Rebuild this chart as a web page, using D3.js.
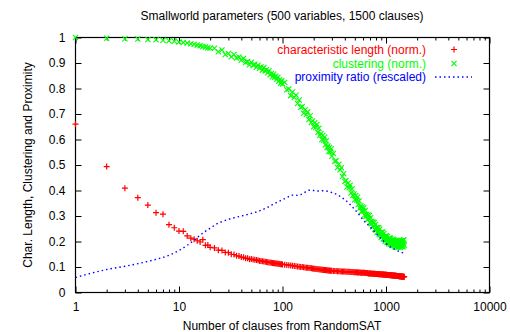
<!DOCTYPE html>
<html>
<head>
<meta charset="utf-8">
<script src="https://cdn.jsdelivr.net/npm/d3@7"></script>
<style>
  html, body { margin: 0; padding: 0; background: #fff; }
  svg { display: block; }
  text { font-family: "Liberation Sans", Arial, Helvetica, sans-serif; font-size: 12px; fill: #000; }
</style>
</head>
<body>
<svg id="chart" width="510" height="332"></svg>
<script>
// Number of clauses taken from RandomSAT (shared by the two scatter series)
const clauses = [
  1,2,3,4,5,6,7,8,9,10,11,12,13,14,15,16,17,18,19,20,
  22,24,26,28,30,32,34,36,38,40,42,44,46,48,50,52,54,56,58,60,
  62,64,66,68,70,72,74,76,78,80,82,84,86,88,90,92,94,96,98,100,
  105,110,115,120,125,130,135,140,145,150,155,160,165,170,175,180,185,190,195,200,
  205,210,215,220,225,230,235,240,245,250,255,260,265,270,275,280,285,290,295,300,
  310,320,330,340,350,360,370,380,390,400,410,420,430,440,450,460,470,480,490,500,
  510,520,530,540,550,560,570,580,590,600,610,620,630,640,650,660,670,680,690,700,
  710,720,730,740,750,760,770,780,790,800,810,820,830,840,850,860,870,880,890,900,
  910,920,930,940,950,960,970,980,990,1000,1010,1020,1030,1040,1050,1060,1070,1080,1090,1100,
  1110,1120,1130,1140,1150,1160,1170,1180,1190,1200,1210,1220,1230,1240,1250,1260,1270,1280,1290,1300,
  1310,1320,1330,1340,1350,1360,1370,1380,1390,1400,1410,1420,1430,1440,1450,1460,1470,1480,1490,1500
];

// Characteristic path length (normalised)
const charLength = [
  0.660,0.494,0.409,0.372,0.343,0.313,0.307,0.266,0.254,0.241,0.240,0.222,0.213,0.209,0.203,0.198,0.207,0.185,0.186,0.177,
  0.175,0.166,0.165,0.157,0.156,0.150,0.149,0.144,0.143,0.139,0.138,0.134,0.134,0.130,0.131,0.129,0.128,0.127,0.126,0.124,
  0.124,0.123,0.122,0.121,0.120,0.119,0.118,0.118,0.117,0.116,0.115,0.115,0.114,0.114,0.113,0.113,0.112,0.111,0.111,0.110,
  0.109,0.108,0.107,0.106,0.105,0.104,0.103,0.102,0.101,0.100,0.100,0.099,0.098,0.097,0.097,0.096,0.096,0.095,0.094,0.093,
  0.093,0.092,0.092,0.091,0.091,0.090,0.090,0.089,0.089,0.088,0.088,0.088,0.087,0.087,0.086,0.086,0.086,0.085,0.085,0.085,
  0.084,0.084,0.084,0.083,0.083,0.083,0.082,0.082,0.082,0.082,0.081,0.081,0.081,0.081,0.080,0.080,0.080,0.080,0.079,0.079,
  0.079,0.079,0.078,0.078,0.078,0.078,0.077,0.077,0.077,0.077,0.077,0.077,0.076,0.076,0.076,0.076,0.075,0.075,0.075,0.075,
  0.075,0.075,0.074,0.074,0.074,0.074,0.074,0.074,0.073,0.073,0.073,0.073,0.073,0.073,0.072,0.072,0.072,0.072,0.072,0.072,
  0.071,0.071,0.071,0.071,0.071,0.071,0.070,0.070,0.070,0.070,0.070,0.070,0.069,0.069,0.069,0.069,0.069,0.069,0.068,0.068,
  0.068,0.068,0.068,0.068,0.067,0.067,0.067,0.067,0.067,0.067,0.066,0.066,0.066,0.066,0.066,0.066,0.065,0.065,0.065,0.065,
  0.065,0.065,0.064,0.064,0.064,0.064,0.064,0.064,0.063,0.063,0.063,0.063,0.063,0.063,0.062,0.062,0.062,0.062,0.062,0.062
];

// Clustering coefficient (normalised)
const clustering = [
  1.000,0.997,0.995,0.994,0.992,0.991,0.989,0.987,0.985,0.982,0.980,0.978,0.975,0.973,0.970,0.968,0.965,0.963,0.960,0.958,
  0.958,0.944,0.951,0.933,0.937,0.924,0.933,0.920,0.924,0.911,0.918,0.902,0.906,0.893,0.903,0.891,0.895,0.883,0.891,0.879,
  0.884,0.872,0.882,0.869,0.874,0.862,0.870,0.854,0.858,0.846,0.856,0.844,0.848,0.836,0.844,0.828,0.833,0.821,0.830,0.818,
  0.824,0.795,0.798,0.772,0.786,0.765,0.774,0.741,0.755,0.726,0.729,0.703,0.717,0.698,0.708,0.678,0.693,0.667,0.673,0.650,
  0.666,0.648,0.659,0.628,0.644,0.617,0.623,0.600,0.616,0.598,0.609,0.579,0.595,0.569,0.575,0.553,0.569,0.552,0.563,0.534,
  0.545,0.515,0.517,0.490,0.503,0.481,0.489,0.455,0.466,0.435,0.439,0.414,0.429,0.411,0.421,0.390,0.406,0.380,0.386,0.364,
  0.380,0.363,0.374,0.345,0.359,0.331,0.339,0.318,0.335,0.319,0.332,0.304,0.322,0.298,0.306,0.286,0.304,0.289,0.302,0.275,
  0.293,0.270,0.278,0.258,0.276,0.261,0.275,0.248,0.267,0.245,0.254,0.235,0.254,0.240,0.254,0.228,0.248,0.226,0.235,0.216,
  0.236,0.222,0.237,0.211,0.231,0.209,0.219,0.201,0.221,0.208,0.223,0.198,0.219,0.198,0.209,0.191,0.212,0.199,0.215,0.190,
  0.211,0.190,0.201,0.184,0.205,0.192,0.209,0.184,0.206,0.185,0.197,0.179,0.201,0.188,0.205,0.180,0.202,0.182,0.194,0.176,
  0.198,0.186,0.203,0.179,0.201,0.181,0.193,0.176,0.198,0.187,0.204,0.180,0.202,0.183,0.195,0.179,0.204,0.190,0.207,0.184
];

// Proximity ratio (rescaled), sampled along the clause axis
const proxClauses = [
  1,2,3,4,5,6,8,10,12,14,16,18,20,23,26,30,35,40,45,50,60,70,80,90,100,
  110,120,130,140,150,160,180,200,220,250,280,300,330,360,400,450,500,550,600,
  700,800,900,1000,1100,1200,1300,1400,1500
];
const proximity = [
  0.059,0.090,0.103,0.113,0.122,0.130,0.146,0.165,0.185,0.205,0.225,0.240,0.252,0.268,0.278,0.287,0.294,0.300,0.305,0.310,0.320,0.332,0.345,0.355,0.364,
  0.372,0.380,0.383,0.381,0.384,0.390,0.401,0.400,0.398,0.399,0.396,0.392,0.386,0.377,0.364,0.345,0.325,0.305,0.285,
  0.258,0.232,0.210,0.192,0.179,0.170,0.163,0.158,0.154
];

const xMajorTicks = [1, 10, 100, 1000, 10000];
const xTickLabels = ["1", "10", "100", "1000", "10000"];
const yTicks = [0, 0.1, 0.2, 0.3, 0.4, 0.5, 0.6, 0.7, 0.8, 0.9, 1];
const yTickLabels = ["0", "0.1", "0.2", "0.3", "0.4", "0.5", "0.6", "0.7", "0.8", "0.9", "1"];

const seriesNames = ["characteristic length (norm.)", "clustering (norm.)", "proximity ratio (rescaled)"];
const seriesColors = ["#ff0000", "#00ff00", "#0000ff"];

const titleText = "Smallworld parameters (500 variables, 1500 clauses)";
const xTitle = "Number of clauses from RandomSAT";
const yTitle = "Char. Length, Clustering and Proximity";

// ---- layout ----
const plot = { left: 75.5, right: 489.5, top: 37.5, bottom: 292.5 };
const svg = d3.select("#chart");

const x = d3.scaleLog().domain([1, 10000]).range([plot.left, plot.right]);
const y = d3.scaleLinear().domain([0, 1]).range([plot.bottom, plot.top]);

// minor tick positions of the log axis (2..9 in every decade)
const xMinorTicks = [];
[1, 10, 100, 1000].forEach(d => { for (let k = 2; k <= 9; k++) xMinorTicks.push(d * k); });

function styleAxis(g) {
  g.select(".domain").remove();
  g.selectAll(".tick line").attr("stroke", "#000").attr("stroke-width", 1);
  g.selectAll(".tick text").attr("font-family", "Liberation Sans, Arial, sans-serif").attr("font-size", 12).attr("fill", "#000");
}

// bottom axis: major ticks with labels
svg.append("g")
  .attr("transform", `translate(0,${plot.bottom})`)
  .call(d3.axisBottom(x).tickValues(xMajorTicks).tickSizeInner(-6).tickSizeOuter(0)
    .tickPadding(10).tickFormat((d, i) => xTickLabels[i]))
  .call(styleAxis);
// bottom minor ticks
svg.append("g")
  .attr("transform", `translate(0,${plot.bottom})`)
  .call(d3.axisBottom(x).tickValues(xMinorTicks).tickSizeInner(-3).tickSizeOuter(0).tickFormat(""))
  .call(styleAxis);
// top mirrored ticks
svg.append("g")
  .attr("transform", `translate(0,${plot.top})`)
  .call(d3.axisTop(x).tickValues(xMajorTicks).tickSizeInner(-6).tickSizeOuter(0).tickFormat(""))
  .call(styleAxis);
svg.append("g")
  .attr("transform", `translate(0,${plot.top})`)
  .call(d3.axisTop(x).tickValues(xMinorTicks).tickSizeInner(-3).tickSizeOuter(0).tickFormat(""))
  .call(styleAxis);

// left axis with labels
svg.append("g")
  .attr("transform", `translate(${plot.left},0)`)
  .call(d3.axisLeft(y).tickValues(yTicks).tickSizeInner(-6).tickSizeOuter(0)
    .tickPadding(10).tickFormat((d, i) => yTickLabels[i]))
  .call(styleAxis);
// right mirrored ticks
svg.append("g")
  .attr("transform", `translate(${plot.right},0)`)
  .call(d3.axisRight(y).tickValues(yTicks).tickSizeInner(-6).tickSizeOuter(0).tickFormat(""))
  .call(styleAxis);

// plot border
svg.append("rect")
  .attr("x", plot.left).attr("y", plot.top)
  .attr("width", plot.right - plot.left).attr("height", plot.bottom - plot.top)
  .attr("fill", "none").attr("stroke", "#000").attr("stroke-width", 1.2);

// ---- data ----
const plusPath = "M-3,0H3M0,-3V3";
const crossPath = "M-2.6,-2.6L2.6,2.6M-2.6,2.6L2.6,-2.6";

const lenPts = clauses.map((c, i) => ({ c, v: charLength[i] }));
const cluPts = clauses.map((c, i) => ({ c, v: clustering[i] }));
const proxPts = proxClauses.map((c, i) => ({ c, v: proximity[i] }));

svg.append("g").selectAll("path").data(lenPts).join("path")
  .attr("d", plusPath)
  .attr("transform", d => `translate(${x(d.c)},${y(d.v)})`)
  .attr("stroke", seriesColors[0]).attr("stroke-width", 1.2).attr("fill", "none");

svg.append("g").selectAll("path").data(cluPts).join("path")
  .attr("d", crossPath)
  .attr("transform", d => `translate(${x(d.c)},${y(d.v)})`)
  .attr("stroke", seriesColors[1]).attr("stroke-width", 1.1).attr("fill", "none");

const line = d3.line().x(d => x(d.c)).y(d => y(d.v)).curve(d3.curveMonotoneX);
svg.append("path").datum(proxPts)
  .attr("d", line)
  .attr("fill", "none").attr("stroke", seriesColors[2])
  .attr("stroke-width", 1.4).attr("stroke-dasharray", "1.5,3");

// ---- legend ----
const legendRight = 426;
const legendRows = [53.5, 67.5, 81];
const legendSampleX = 454;
seriesNames.forEach((name, i) => {
  svg.append("text")
    .attr("x", legendRight).attr("y", legendRows[i])
    .attr("text-anchor", "end")
    .style("fill", seriesColors[i])
    .text(name);
});
svg.append("path").attr("d", plusPath)
  .attr("transform", `translate(${legendSampleX},${legendRows[0] - 4})`)
  .attr("stroke", seriesColors[0]).attr("stroke-width", 1.2);
svg.append("path").attr("d", crossPath)
  .attr("transform", `translate(${legendSampleX},${legendRows[1] - 4})`)
  .attr("stroke", seriesColors[1]).attr("stroke-width", 1.1);
svg.append("line")
  .attr("x1", 435).attr("x2", 472)
  .attr("y1", legendRows[2] - 4).attr("y2", legendRows[2] - 4)
  .attr("stroke", seriesColors[2]).attr("stroke-width", 1.4).attr("stroke-dasharray", "1.5,3");

// ---- titles ----
svg.append("text")
  .attr("x", 282).attr("y", 19.5)
  .attr("text-anchor", "middle")
  .text(titleText);
svg.append("text")
  .attr("x", 282).attr("y", 330)
  .attr("text-anchor", "middle")
  .text(xTitle);
svg.append("text")
  .attr("transform", "translate(32,165) rotate(-90)")
  .attr("text-anchor", "middle")
  .text(yTitle);
</script>
</body>
</html>
